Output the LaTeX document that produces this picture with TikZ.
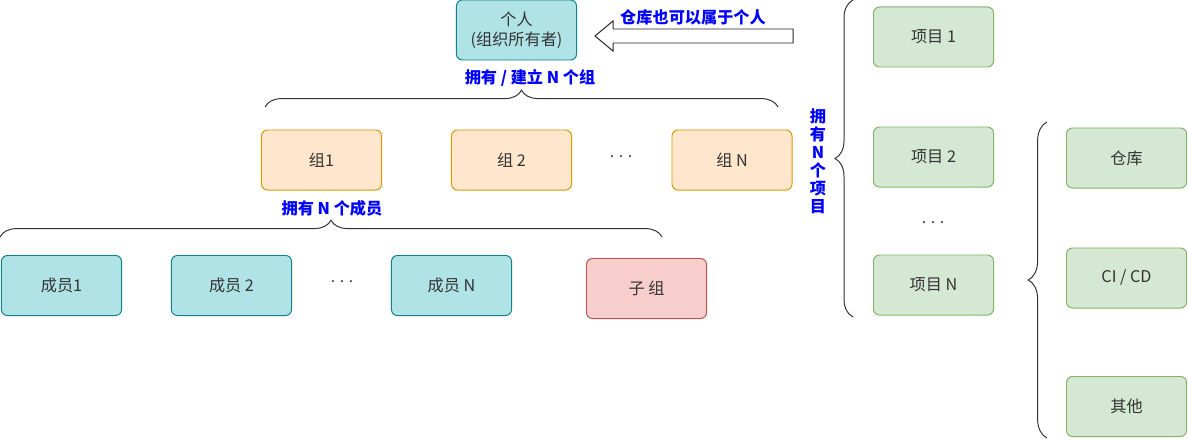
\documentclass[tikz,border=0pt]{standalone}
\usepackage{fontspec}
\setmainfont{Noto Sans CJK SC}
\usetikzlibrary{decorations.pathreplacing}

\definecolor{memberfill}{HTML}{B0E3E6}
\definecolor{memberdraw}{HTML}{0E8088}
\definecolor{groupfill}{HTML}{FFE6CC}
\definecolor{groupdraw}{HTML}{D79B00}
\definecolor{subfill}{HTML}{F8CECC}
\definecolor{subdraw}{HTML}{B85450}
\definecolor{projfill}{HTML}{D5E8D4}
\definecolor{projdraw}{HTML}{82B366}
\definecolor{boxtext}{HTML}{333333}

\begin{document}
\begin{tikzpicture}[
        x=0.025cm, y=-0.025cm,
        box/.style = {rectangle, rounded corners=0.15cm, line width=0.7pt, minimum width=3cm, minimum height=1.5cm, align=center, text=boxtext, font=\fontsize{11.5}{14}\selectfont},
        member/.style = {box, fill=memberfill, draw=memberdraw},
        group/.style = {box, fill=groupfill, draw=groupdraw},
        subgroup/.style = {box, fill=subfill, draw=subdraw},
        project/.style = {box, fill=projfill, draw=projdraw},
        label/.style = {text=blue, align=center, font=\fontsize{11.5}{12.8}\selectfont\bfseries},
        dots/.style = {text=boxtext, font=\fontsize{11}{12}\selectfont},
        brace/.style = {decorate, line width=0.7pt, draw=black!80}
    ]
    \useasboundingbox (0,0) rectangle (1188,440);

    % ================= OWNER =================
    \node[member] (owner) at (516.5,30) {个人\\(组织所有者)};
    \draw[line width=0.7pt, draw=black!85] (793,29) -- (613,29) -- (613,21) -- (595,36) -- (613,51) -- (613,43) -- (793,43) -- cycle;
    \node[label] (lblrepo) at (693,17) {仓库也可以属于个人};

    % ================= GROUPS =================
    \node[label] (lblgroups) at (530,78) {拥有 / 建立 N 个组};
    \draw[brace, decoration={brace, amplitude=0.42cm}] (265,107) -- (778,107);

    \node[group] (grp1) at (321.5,160) {组1};
    \node[group] (grp2) at (511.5,160) {组 2};
    \node[dots] (grpdots) at (621,157) {. . .};
    \node[group] (grpN) at (732,160) {组 N};

    % ================= MEMBERS =================
    \node[label] (lblmembers) at (332,208) {拥有 N 个成员};
    \draw[brace, decoration={brace, amplitude=0.42cm}] (0,237) -- (662,237);

    \node[member] (mem1) at (61.5,285.5) {成员1};
    \node[member] (mem2) at (231.5,285.5) {成员 2};
    \node[dots] (memdots) at (342,282) {. . .};
    \node[member] (memN) at (451.5,285.5) {成员 N};
    \node[subgroup] (sub) at (646.5,288.5) {子 组};

    % ================= PROJECTS =================
    \draw[brace, decoration={brace, amplitude=0.45cm}] (853,317) -- (853,0);
    \node[label] (lblprojects) at (818,161) {拥\\有\\N\\个\\项\\目};

    \node[project] (prj1) at (933.5,37) {项目 1};
    \node[project] (prj2) at (933.5,157) {项目 2};
    \node[dots] (prjdots) at (933,223) {. . .};
    \node[project] (prjN) at (933.5,285) {项目 N};

    % ================= PROJECT CONTENT =================
    \draw[brace, decoration={brace, amplitude=0.47cm}] (1047,438) -- (1047,122);

    \node[project] (repo) at (1126.5,158) {仓库};
    \node[project] (cicd) at (1126.5,278) {CI / CD};
    \node[project] (other) at (1126.5,406.5) {其他};

\end{tikzpicture}
\end{document}
